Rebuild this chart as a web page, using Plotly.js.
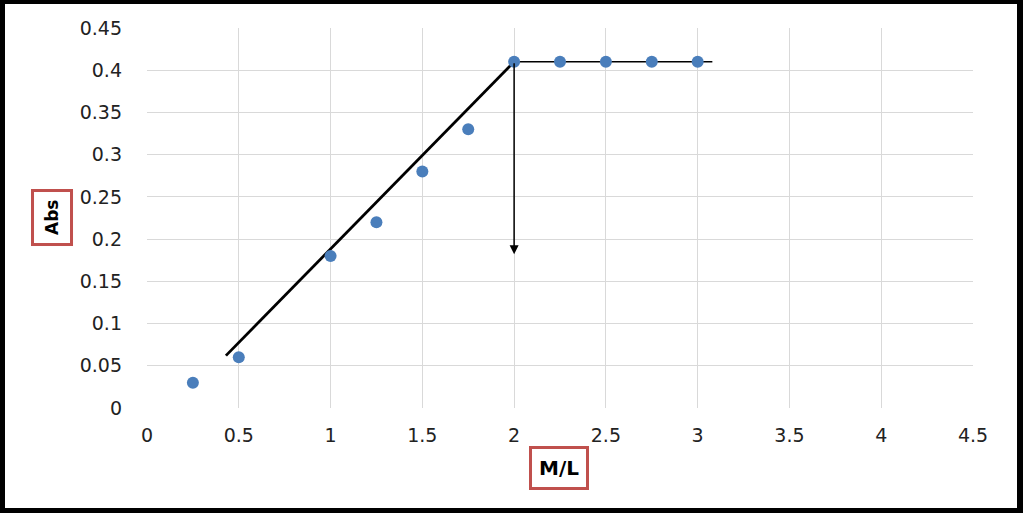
<!DOCTYPE html>
<html>
<head>
<meta charset="utf-8">
<script src="https://cdn.plot.ly/plotly-3.0.1.min.js"></script>
<style>
  html, body { margin: 0; padding: 0; background: #fff; }
  #wrap { position: relative; width: 1023px; height: 513px; }
  #chart { position: absolute; left: 0; top: 0; width: 1023px; height: 513px; }
  #frame { position: absolute; left: 0; top: 0; width: 1023px; height: 513px; box-sizing: border-box;
           border-style: solid; border-color: #000; border-width: 4px 6px 5px 5px; pointer-events: none; }
</style>
</head>
<body>
<div id="wrap"><div id="chart"></div><div id="frame"></div></div>
<script>
// Data points
const ml  = [0.25, 0.5, 1, 1.25, 1.5, 1.75, 2, 2.25, 2.5, 2.75, 3];
const abs = [0.03, 0.06, 0.18, 0.22, 0.28, 0.33, 0.41, 0.41, 0.41, 0.41, 0.41];
// Hand-drawn fit lines
const riseX = [0.43, 2];
const riseY = [0.062, 0.41];
const flatX = [2, 3.08];
const flatY = [0.41, 0.41];
// Arrow: from (2, 0.41) down to (2, 0.182)
const arrowFrom = [2, 0.41];
const arrowTo = [2, 0.182];
// Tick values
const xTicks = [0, 0.5, 1, 1.5, 2, 2.5, 3, 3.5, 4, 4.5];
const yTicks = [0, 0.05, 0.1, 0.15, 0.2, 0.25, 0.3, 0.35, 0.4, 0.45];

const tickFont = {family: 'DejaVu Sans', size: 19, color: '#222'};

const traces = [
  {x: riseX, y: riseY, mode: 'lines', line: {color: '#000', width: 2.8}, hoverinfo: 'skip', showlegend: false},
  {x: flatX, y: flatY, mode: 'lines', line: {color: '#000', width: 1.5}, hoverinfo: 'skip', showlegend: false},
  {x: ml, y: abs, mode: 'markers', marker: {color: '#4a7ebb', size: 12}, showlegend: false}
];

const layout = {
  width: 1023, height: 513,
  margin: {l: 147, r: 50, t: 28, b: 105},
  paper_bgcolor: '#fff', plot_bgcolor: '#fff',
  showlegend: false,
  xaxis: {
    range: [0, 4.5], tickvals: xTicks, ticktext: xTicks.map(String),
    showgrid: true, gridcolor: '#d9d9d9', gridwidth: 1,
    zeroline: false, showline: false, ticks: '', ticklabelstandoff: 14,
    tickfont: tickFont, fixedrange: true
  },
  yaxis: {
    range: [0, 0.45], tickvals: yTicks, ticktext: yTicks.map(String),
    showgrid: true, gridcolor: '#d9d9d9', gridwidth: 1,
    zeroline: false, showline: false, ticks: '', ticklabelstandoff: 24,
    tickfont: tickFont, fixedrange: true
  },
  annotations: [
    {x: arrowTo[0], y: arrowTo[1], ax: arrowFrom[0], ay: arrowFrom[1],
     xref: 'x', yref: 'y', axref: 'x', ayref: 'y', text: '', showarrow: true,
     arrowhead: 2, arrowsize: 1.2, arrowwidth: 1.5, arrowcolor: '#000'},
    {xref: 'paper', yref: 'paper', x: -0.115, y: 0.5, text: '<b>Abs</b>', textangle: -90,
     showarrow: false, font: {family: 'DejaVu Sans', size: 17, color: '#000'},
     bordercolor: '#c0504d', borderwidth: 3, borderpad: 8, bgcolor: '#fff', xanchor: 'center', yanchor: 'middle'},
    {xref: 'paper', yref: 'paper', x: 0.4988, y: -0.158, text: '<b>M/L</b>',
     showarrow: false, font: {family: 'DejaVu Sans', size: 20, color: '#000'},
     bordercolor: '#c0504d', borderwidth: 3, borderpad: 7, bgcolor: '#fff', xanchor: 'center', yanchor: 'middle'}
  ]
};

Plotly.newPlot('chart', traces, layout, {displayModeBar: false, staticPlot: true});
</script>
</body>
</html>
